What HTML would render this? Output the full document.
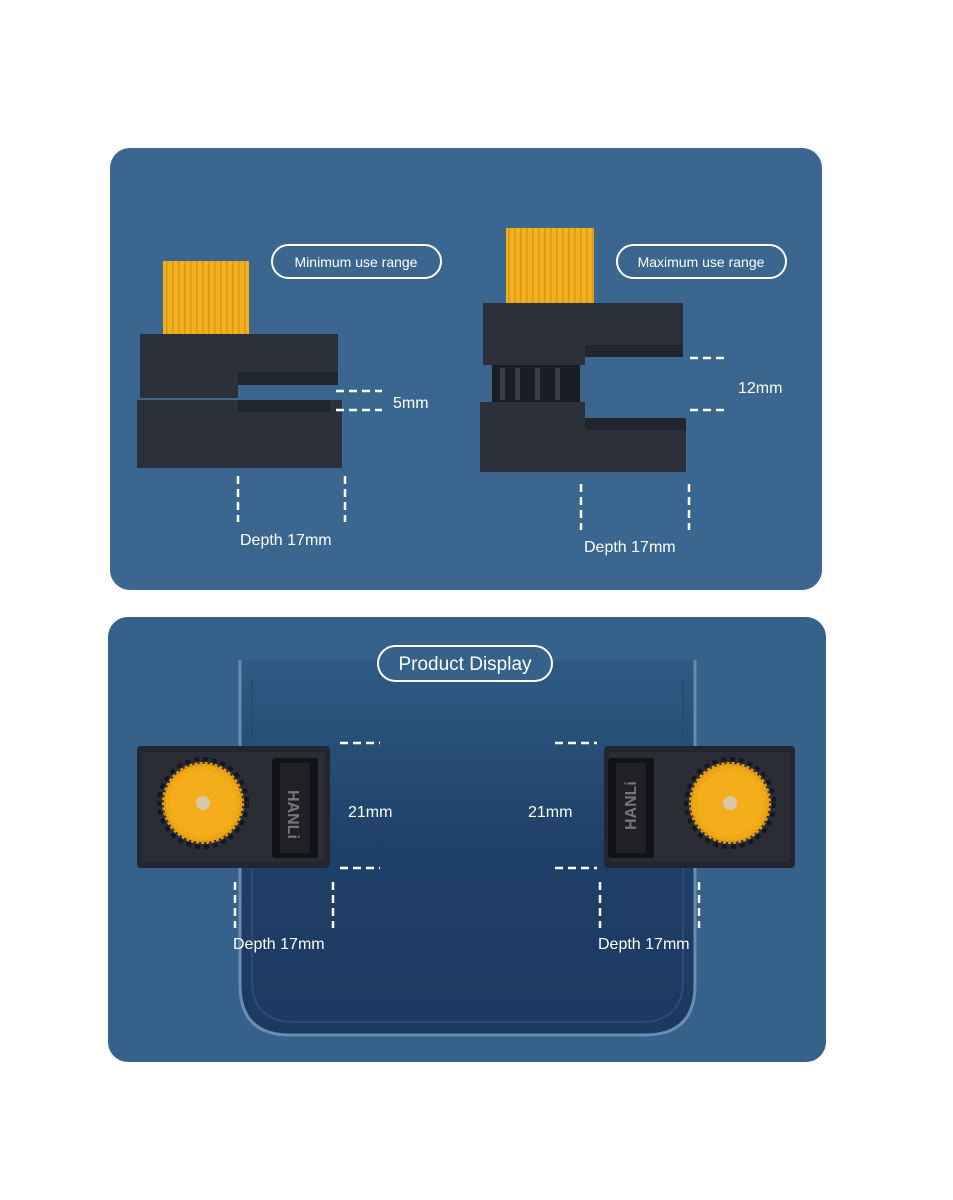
<!DOCTYPE html>
<html><head><meta charset="utf-8"><style>
html,body{margin:0;padding:0;background:#fff;}
svg{display:block;font-family:"Liberation Sans",sans-serif;}
</style></head><body>
<svg width="953" height="1200" viewBox="0 0 953 1200" xmlns="http://www.w3.org/2000/svg">
<defs>
<linearGradient id="ph" x1="0" y1="0" x2="0" y2="1">
<stop offset="0" stop-color="#2f5a84"/><stop offset="0.5" stop-color="#1f4068"/><stop offset="1" stop-color="#1c3a60"/>
</linearGradient>
<pattern id="rib" width="6" height="10" patternUnits="userSpaceOnUse"><rect width="6" height="10" fill="#f2b01e"/><rect x="4" width="1.5" height="10" fill="#d9961a"/></pattern>
</defs>
<rect width="953" height="1200" fill="#fff"/>
<!-- top panel -->
<rect x="110" y="148" width="712" height="442" rx="20" fill="#3a6690"/>
<!-- pills -->
<g fill="none" stroke="#fff" stroke-width="2">
<rect x="272" y="245" width="169" height="33" rx="16.5"/>
<rect x="617" y="245" width="169" height="33" rx="16.5"/>
</g>
<g fill="#fff" font-size="14" text-anchor="middle">
<text x="356" y="267">Minimum use range</text>
<text x="701" y="267">Maximum use range</text>
</g>
<!-- min clamp -->
<rect x="163" y="261" width="86" height="74" fill="url(#rib)"/>
<path d="M140 334 H338 V385 H238 V398 H140 Z" fill="#2c303b"/>
<path d="M137 400 H342 V468 H137 Z M238 400 V412 H330 V400 Z" fill="#2c303b" fill-rule="evenodd"/>
<rect x="238" y="372" width="100" height="13" fill="#22252e"/>
<rect x="238" y="400" width="92" height="12" fill="#22252e"/>
<!-- max clamp -->
<rect x="506" y="228" width="88" height="75" fill="url(#rib)"/>
<path d="M483 303 H683 V345 H585 V365 H483 Z" fill="#2c303b"/>
<rect x="585" y="345" width="98" height="12" fill="#22252e"/>
<rect x="492" y="365" width="88" height="37" fill="#1b1d24"/>
<g fill="#3a3e4a"><rect x="500" y="368" width="5" height="32"/><rect x="515" y="368" width="5" height="32"/><rect x="535" y="368" width="5" height="32"/><rect x="555" y="368" width="5" height="32"/></g>
<path d="M480 402 H585 V430 H686 V472 H480 Z" fill="#2c303b"/>
<rect x="585" y="418" width="101" height="12" fill="#22252e"/>
<!-- dashes top -->
<g stroke="#fff" stroke-width="2.5" stroke-dasharray="8,5" fill="none">
<line x1="336" y1="391" x2="382" y2="391"/><line x1="336" y1="410" x2="382" y2="410"/>
<line x1="690" y1="358" x2="728" y2="358"/><line x1="690" y1="410" x2="728" y2="410"/>
<line x1="238" y1="476" x2="238" y2="522"/><line x1="345" y1="476" x2="345" y2="522"/>
<line x1="581" y1="484" x2="581" y2="530"/><line x1="689" y1="484" x2="689" y2="530"/>
</g>
<g fill="#fff" font-size="16">
<text x="393" y="408">5mm</text>
<text x="738" y="393">12mm</text>
<text x="240" y="545">Depth 17mm</text>
<text x="584" y="552">Depth 17mm</text>
</g>
<!-- bottom panel -->
<rect x="108" y="617" width="718" height="445" rx="20" fill="#35618b"/>
<path d="M240 660 V985 Q240 1035 290 1035 H645 Q695 1035 695 985 V660" fill="url(#ph)" stroke="#6b8cb0" stroke-width="3"/>
<path d="M252 680 V980 Q252 1022 294 1022 H641 Q683 1022 683 980 V680" fill="none" stroke="#2a4c74" stroke-width="2"/>
<rect x="378" y="646" width="174" height="35" rx="17.5" fill="#35618b" stroke="#fff" stroke-width="2"/>
<text x="465" y="670" fill="#fff" font-size="19" text-anchor="middle">Product Display</text>
<!-- left device -->
<rect x="137" y="746" width="193" height="122" rx="4" fill="#23262e"/>
<rect x="142" y="752" width="183" height="110" rx="3" fill="#2a2d36"/>
<circle cx="203" cy="803" r="44" fill="none" stroke="#15171c" stroke-width="4" stroke-dasharray="5,4"/>
<circle cx="203" cy="803" r="39" fill="#f0a817" stroke="#e09a10" stroke-width="4" stroke-dasharray="3,2"/>
<circle cx="203" cy="803" r="33" fill="#f5ad1c"/>
<circle cx="203" cy="803" r="7" fill="#d8c8a8"/>
<rect x="272" y="758" width="46" height="100" rx="3" fill="#111317"/>
<rect x="280" y="763" width="30" height="90" rx="2" fill="#1f2127"/>
<text transform="translate(288,790) rotate(90)" fill="#777" font-size="16" font-weight="bold">HANLi</text>
<!-- right device -->
<rect x="604" y="746" width="191" height="122" rx="4" fill="#23262e"/>
<rect x="609" y="752" width="181" height="110" rx="3" fill="#2a2d36"/>
<circle cx="730" cy="803" r="44" fill="none" stroke="#15171c" stroke-width="4" stroke-dasharray="5,4"/>
<circle cx="730" cy="803" r="39" fill="#f0a817" stroke="#e09a10" stroke-width="4" stroke-dasharray="3,2"/>
<circle cx="730" cy="803" r="33" fill="#f5ad1c"/>
<circle cx="730" cy="803" r="7" fill="#d8c8a8"/>
<rect x="608" y="758" width="46" height="100" rx="3" fill="#111317"/>
<rect x="616" y="763" width="30" height="90" rx="2" fill="#1f2127"/>
<text transform="translate(636,830) rotate(-90)" fill="#777" font-size="16" font-weight="bold">HANLi</text>
<!-- dashes bottom -->
<g stroke="#fff" stroke-width="2.5" stroke-dasharray="8,5" fill="none">
<line x1="340" y1="743" x2="380" y2="743"/><line x1="340" y1="868" x2="380" y2="868"/>
<line x1="555" y1="743" x2="597" y2="743"/><line x1="555" y1="868" x2="597" y2="868"/>
<line x1="235" y1="882" x2="235" y2="928"/><line x1="333" y1="882" x2="333" y2="928"/>
<line x1="600" y1="882" x2="600" y2="928"/><line x1="699" y1="882" x2="699" y2="928"/>
</g>
<g fill="#fff" font-size="16">
<text x="348" y="817">21mm</text>
<text x="528" y="817">21mm</text>
<text x="233" y="949">Depth 17mm</text>
<text x="598" y="949">Depth 17mm</text>
</g>
</svg>
</body></html>
